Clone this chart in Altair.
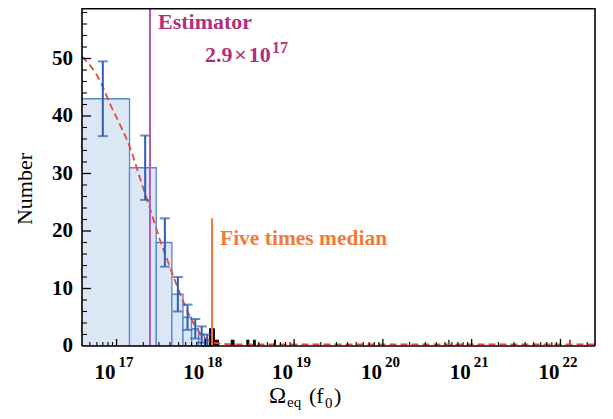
import altair as alt
import pandas as pd

# ---------------- data (x values in units of 1e17) ----------------
XMIN, XMAX = 4.08e16, 2.45e22
YMIN, YMAX = 0, 60
U = 1e17

# blue histogram (linear bins)
bin_left = [0.1, 1.4, 2.8, 4.2, 5.6, 7.0, 8.4, 9.8]
bin_right = [1.4, 2.8, 4.2, 5.6, 7.0, 8.4, 9.8, 11.2]
counts = [43, 31, 18, 9, 5, 3, 2, 1]

# error bars
err_x = [0.7, 2.1, 3.5, 4.9, 6.3, 7.7, 9.1, 10.5]
err_lo = [36.5, 25.4, 13.8, 6.0, 2.8, 1.3, 0.6, 0.0]
err_hi = [49.5, 36.6, 22.2, 12.0, 7.2, 4.7, 3.4, 2.0]

# black tail bars
black_left = [11.2, 12.6, 19.6, 29.4, 35.0, 60.2, 5540.0, 128000.0]
black_right = [12.6, 14.0, 21.0, 30.8, 36.4, 61.6, 5541.4, 128001.4]
black_counts = [3, 1, 1, 1, 1, 1, 1, 1]

# red dashed fit curve
curve_x = [0.408, 0.434, 0.652, 0.85, 1.14, 1.42, 1.85, 2.38, 3.09, 4.0, 5.19, 6.73, 9.49,
           13.4, 20.0, 100.0, 1000.0, 10000.0, 100000.0, 245000.0]
curve_y = [50.3, 49.9, 46.1, 42.0, 37.9, 34.5, 29.0, 23.9, 18.4, 13.7, 9.1, 5.1, 1.6,
           0.5, 0.3, 0.3, 0.3, 0.3, 0.3, 0.3]

estimator_x = 2.38
five_median_x = 11.9
five_median_top = 22.2

# axis ticks / labels
y_labels = [0, 10, 20, 30, 40, 50]
y_major = [10, 20, 30, 40, 50]
y_minor = [v for v in range(2, 60, 2) if v % 10 != 0]
x_decades = [17, 18, 19, 20, 21, 22]
x_minor = [k * 10.0 ** e for e in range(16, 23) for k in range(2, 10)
           if XMIN < k * 10.0 ** e < XMAX]

FONT = "Liberation Serif"
BLUE_FILL = "#dbe7f5"
BLUE_EDGE = "#5a86cc"
ERR_BLUE = "#2f5db0"
RED = "#e8483a"
PURPLE = "#b35ab8"
PURPLE_TXT = "#b0307e"
ORANGE = "#f4733b"
ORANGE_TXT = "#f07a3c"

xs = alt.Scale(type="log", domain=[XMIN, XMAX], nice=False)
ys = alt.Scale(domain=[YMIN, YMAX], nice=False, zero=False)

W, H = 513, 345

hist = pd.DataFrame({"x0": [v * U for v in bin_left], "x1": [v * U for v in bin_right], "n": counts})
bars = alt.Chart(hist).mark_rect(fill=BLUE_FILL, stroke=BLUE_EDGE, strokeWidth=1.3, clip=True).encode(
    x=alt.X("x0:Q", scale=xs, axis=None),
    x2="x1:Q",
    y=alt.Y("n:Q", scale=ys, axis=None),
    y2=alt.datum(0),
)

err = pd.DataFrame({"x": [v * U for v in err_x], "lo": err_lo, "hi": err_hi})
err_rule = alt.Chart(err).mark_rule(color=ERR_BLUE, strokeWidth=2).encode(
    x=alt.X("x:Q", scale=xs, axis=None), y=alt.Y("lo:Q", scale=ys, axis=None), y2="hi:Q")
cap_lo = alt.Chart(err).mark_tick(orient="horizontal", color=ERR_BLUE, size=10, thickness=2).encode(
    x=alt.X("x:Q", scale=xs, axis=None), y=alt.Y("lo:Q", scale=ys, axis=None))
cap_hi = alt.Chart(err).mark_tick(orient="horizontal", color=ERR_BLUE, size=10, thickness=2).encode(
    x=alt.X("x:Q", scale=xs, axis=None), y=alt.Y("hi:Q", scale=ys, axis=None))

blk = pd.DataFrame({"x0": [v * U for v in black_left], "x1": [v * U for v in black_right], "n": black_counts})
black = alt.Chart(blk).mark_rect(fill="black", stroke="black", strokeWidth=1.2, clip=True).encode(
    x=alt.X("x0:Q", scale=xs, axis=None), x2="x1:Q",
    y=alt.Y("n:Q", scale=ys, axis=None), y2=alt.datum(0))

cur = pd.DataFrame({"x": [v * U for v in curve_x], "y": curve_y})
curve = alt.Chart(cur).mark_line(color=RED, strokeWidth=1.8, strokeDash=[7, 4], clip=True,
                                 interpolate="monotone").encode(
    x=alt.X("x:Q", scale=xs, axis=None), y=alt.Y("y:Q", scale=ys, axis=None))

est = alt.Chart(pd.DataFrame({"x": [estimator_x * U], "y0": [YMIN], "y1": [YMAX]})).mark_rule(
    color=PURPLE, strokeWidth=2).encode(
    x=alt.X("x:Q", scale=xs, axis=None), y=alt.Y("y0:Q", scale=ys, axis=None), y2="y1:Q")

fm = alt.Chart(pd.DataFrame({"x": [five_median_x * U], "y0": [YMIN], "y1": [five_median_top]})).mark_rule(
    color=ORANGE, strokeWidth=2).encode(
    x=alt.X("x:Q", scale=xs, axis=None), y=alt.Y("y0:Q", scale=ys, axis=None), y2="y1:Q")

# inward ticks
ymaj = alt.Chart(pd.DataFrame({"v": y_major})).mark_rule(color="black", strokeWidth=1.3).encode(
    y=alt.Y("v:Q", scale=ys, axis=None), x=alt.value(0), x2=alt.value(9))
ymin_ = alt.Chart(pd.DataFrame({"v": y_minor})).mark_rule(color="black", strokeWidth=1.1).encode(
    y=alt.Y("v:Q", scale=ys, axis=None), x=alt.value(0), x2=alt.value(5))
xmaj = alt.Chart(pd.DataFrame({"v": [10.0 ** d for d in x_decades]})).mark_rule(color="black", strokeWidth=1.3).encode(
    x=alt.X("v:Q", scale=xs, axis=None), y=alt.value(H), y2=alt.value(H - 7))
xmin_ = alt.Chart(pd.DataFrame({"v": x_minor})).mark_rule(color="black", strokeWidth=1.1).encode(
    x=alt.X("v:Q", scale=xs, axis=None), y=alt.value(H), y2=alt.value(H - 4))

# frame (spines)
frame = [
    alt.Chart(pd.DataFrame({"a": [0]})).mark_rule(color="black", strokeWidth=1.6).encode(
        x=alt.value(0), x2=alt.value(0), y=alt.value(0), y2=alt.value(H)),
    alt.Chart(pd.DataFrame({"a": [0]})).mark_rule(color="black", strokeWidth=1.6).encode(
        x=alt.value(W), x2=alt.value(W), y=alt.value(0), y2=alt.value(H)),
    alt.Chart(pd.DataFrame({"a": [0]})).mark_rule(color="black", strokeWidth=1.6).encode(
        x=alt.value(0), x2=alt.value(W), y=alt.value(H), y2=alt.value(H)),
    alt.Chart(pd.DataFrame({"a": [0]})).mark_rule(color="black", strokeWidth=2).encode(
        x=alt.value(0), x2=alt.value(W), y=alt.value(7.5), y2=alt.value(7.5)),
]

# y tick labels
ylab = pd.DataFrame({"v": y_labels, "t": [str(v) for v in y_labels]})
yl = alt.Chart(ylab).mark_text(font=FONT, fontWeight="bold", fontSize=21, align="right",
                               baseline="middle", dx=-9, color="black").encode(
    y=alt.Y("v:Q", scale=ys, axis=None), x=alt.value(0), text="t:N")

# x tick labels 10^n
lab = pd.DataFrame({"v": [10.0 ** d for d in x_decades], "b": ["10"] * len(x_decades),
                    "e": [str(d) for d in x_decades]})
xl_base = alt.Chart(lab).mark_text(font=FONT, fontWeight="bold", fontSize=21, align="right",
                                   baseline="alphabetic", dx=-1, color="black").encode(
    x=alt.X("v:Q", scale=xs, axis=None), y=alt.value(378), text="b:N")
xl_exp = alt.Chart(lab).mark_text(font=FONT, fontWeight="bold", fontSize=15, align="left",
                                  baseline="alphabetic", dx=2, color="black").encode(
    x=alt.X("v:Q", scale=xs, axis=None), y=alt.value(365.5), text="e:N")


def txt(s, x, y, size, color="black", weight="normal", angle=0, align="left", baseline="alphabetic"):
    kw = dict(font=FONT, fontSize=size, color=color, fontWeight=weight, align=align, baseline=baseline)
    if angle:
        kw["angle"] = angle
    return alt.Chart(pd.DataFrame({"t": [s]})).mark_text(**kw).encode(
        text="t:N", x=alt.value(x), y=alt.value(y))


texts = [
    txt("Estimator", 76, 28, 22, PURPLE_TXT, "bold"),
    txt("2.9\u200a\u00d7\u200a10", 123, 61, 22, PURPLE_TXT, "bold"),
    txt("17", 190, 51.5, 16, PURPLE_TXT, "bold"),
    txt("Five times median", 138, 244, 21.5, ORANGE_TXT, "bold"),
    txt("Number", -57, 188, 22, "black", "normal", angle=270, align="center", baseline="middle"),
    txt("\u03a9", 187, 402, 23),
    txt("eq", 205, 406, 15),
    txt("(f", 227, 402, 22),
    txt("0", 243, 407, 15),
    txt(")", 252, 402, 22),
]

chart = alt.layer(bars, black, curve, err_rule, cap_lo, cap_hi, est, fm, ymaj, ymin_, xmaj, xmin_,
                  *frame, yl, xl_base, xl_exp, *texts).properties(
    width=W, height=H, autosize="none", background="white",
    padding={"left": 74, "top": -7, "right": 10, "bottom": 70},
).configure_view(stroke=None)

chart.save("out.html", embed_options={"renderer": "svg", "actions": False})
